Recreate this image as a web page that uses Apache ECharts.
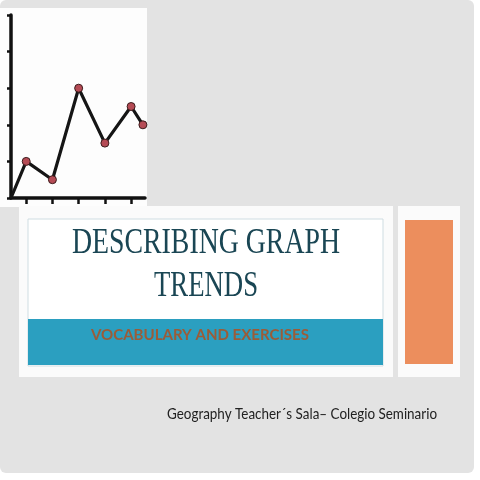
<!DOCTYPE html>
<html>
<head>
<meta charset="utf-8">
<title>Describing Graph Trends</title>
<script src="https://cdn.jsdelivr.net/npm/echarts@6/dist/echarts.min.js"></script>
<style>
  html, body { margin: 0; padding: 0; background: #fff; }
  #main { width: 480px; height: 480px; }
</style>
</head>
<body>
<div id="main"></div>
<script>
// hand drawn sketch
var xValues = [0.42, 1, 2, 3, 4, 5, 5.45];
var yValues = [0, 1, 0.5, 3, 1.5, 2.5, 2];
var xTicks = [1, 2, 3, 4, 5];

var titleLines = ['DESCRIBING GRAPH', 'TRENDS'];
var subtitle = 'VOCABULARY AND EXERCISES';
var footer = 'Geography Teacher´s Sala– Colegio Seminario';

// used to squeeze the text to the width it has in the slide
var ctx = document.createElement('canvas').getContext('2d');
function fitScale(text, font, width) {
  ctx.font = font;
  return width / ctx.measureText(text).width;
}

var chart = echarts.init(document.getElementById('main'));

var titleFont = '36px "Liberation Serif"';
var subFont = 'bold 16px "Lato"';
var footFont = '15px "Lato"';

var pts = xValues.map(function (x, i) {
  return { value: [x, yValues[i]], symbol: i === 0 ? 'none' : 'circle' };
});

var option = {
  animation: false,
  backgroundColor: '#fff',
  grid: { left: 11, top: 15, width: 134, height: 183 },
  xAxis: {
    type: 'value',
    min: 0.42,
    max: 5.53,
    splitLine: { show: false },
    axisLine: { onZero: false, lineStyle: { color: '#111', width: 3.5 } },
    axisTick: { customValues: xTicks, length: 6, lineStyle: { color: '#111', width: 2.5 } },
    axisLabel: { show: false }
  },
  yAxis: {
    type: 'value',
    min: 0,
    max: 5,
    interval: 1,
    splitLine: { show: false },
    axisLine: { onZero: false, lineStyle: { color: '#111', width: 3.5 } },
    axisTick: { length: 4, lineStyle: { color: '#111', width: 2.5 } },
    axisLabel: { show: false }
  },
  series: [{
    type: 'line',
    data: pts,
    symbolSize: 8,
    lineStyle: { color: '#151515', width: 3.2 },
    itemStyle: { color: '#b54b55', borderColor: '#3b1c1c', borderWidth: 1 },
    z: 5
  }],
  graphic: [
    // grey slide
    { type: 'rect', z: -20, shape: { x: 0, y: 0, width: 474, height: 473, r: 6 }, style: { fill: '#e3e3e3' } },
    // white panel behind the sketch
    { type: 'rect', z: -10, shape: { x: 0, y: 8, width: 147, height: 199 }, style: { fill: '#fdfdfd' } },
    // title block
    { type: 'rect', z: -10, shape: { x: 19, y: 206, width: 374, height: 171 }, style: { fill: '#fbfbfb' } },
    { type: 'rect', z: -9, shape: { x: 28, y: 219, width: 355, height: 147 }, style: { fill: '#fff', stroke: '#cfdde2', lineWidth: 1 } },
    { type: 'rect', z: -8, shape: { x: 28, y: 319, width: 355, height: 46 }, style: { fill: '#2b9fc0' } },
    // side block
    { type: 'rect', z: -10, shape: { x: 398, y: 206, width: 62, height: 171 }, style: { fill: '#fbfbfb' } },
    { type: 'rect', z: -8, shape: { x: 405, y: 220, width: 48, height: 144 }, style: { fill: '#ec8e5d' } },
    // texts
    {
      type: 'text', z: 10, x: 206, y: 244,
      scaleX: fitScale(titleLines[0], titleFont, 268),
      style: { text: titleLines[0], font: titleFont, fill: '#1a4654', textAlign: 'center', textVerticalAlign: 'middle' }
    },
    {
      type: 'text', z: 10, x: 206, y: 287,
      scaleX: fitScale(titleLines[1], titleFont, 104),
      style: { text: titleLines[1], font: titleFont, fill: '#1a4654', textAlign: 'center', textVerticalAlign: 'middle' }
    },
    {
      type: 'text', z: 10, x: 200, y: 335,
      scaleX: fitScale(subtitle, subFont, 218),
      style: { text: subtitle, font: subFont, fill: '#9b5c38', textAlign: 'center', textVerticalAlign: 'middle' }
    },
    {
      type: 'text', z: 10, x: 167, y: 414,
      scaleX: fitScale(footer, footFont, 270),
      style: { text: footer, font: footFont, fill: '#222', textAlign: 'left', textVerticalAlign: 'middle' }
    }
  ]
};

chart.setOption(option);
</script>
</body>
</html>
